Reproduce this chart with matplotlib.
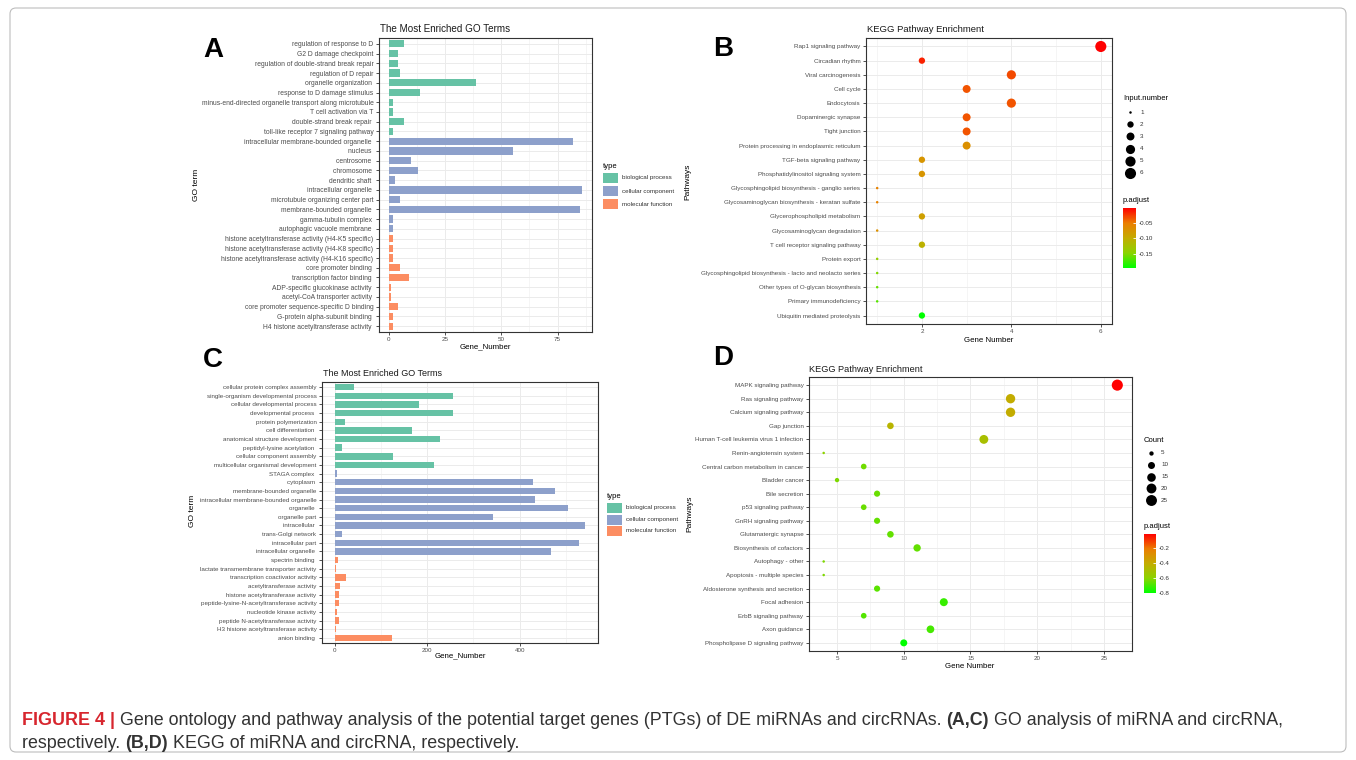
import numpy as np
import matplotlib.pyplot as plt
from matplotlib.colors import LinearSegmentedColormap, Normalize
from matplotlib.colorbar import ColorbarBase
from matplotlib.patches import FancyBboxPatch, Rectangle
from matplotlib.ticker import MultipleLocator

plt.rcParams['font.family'] = ['Liberation Sans', 'DejaVu Sans']

W, H = 1356, 760

# ---- panel A: GO terms of miRNA targets ----
go_a_terms = [
    "regulation of response to D", "G2 D damage checkpoint",
    "regulation of double-strand break repair", "regulation of D repair",
    "organelle organization ", "response to D damage stimulus",
    "minus-end-directed organelle transport along microtubule",
    "T cell activation via T", "double-strand break repair ",
    "toll-like receptor 7 signaling pathway",
    "intracellular membrane-bounded organelle ", "nucleus ", "centrosome ",
    "chromosome ", "dendritic shaft ", "intracellular organelle ",
    "microtubule organizing center part", "membrane-bounded organelle ",
    "gamma-tubulin complex ", "autophagic vacuole membrane ",
    "histone acetyltransferase activity (H4-K5 specific)",
    "histone acetyltransferase activity (H4-K8 specific)",
    "histone acetyltransferase activity (H4-K16 specific)",
    "core promoter binding ", "transcription factor binding ",
    "ADP-specific glucokinase activity ", "acetyl-CoA transporter activity ",
    "core promoter sequence-specific D binding", "G-protein alpha-subunit binding ",
    "H4 histone acetyltransferase activity ",
]
go_a_count = [7, 4, 4, 5, 39, 14, 2, 2, 7, 2,
              82, 55, 10, 13, 3, 86, 5, 85, 2, 2,
              2, 2, 2, 5, 9, 1, 1, 4, 2, 2]
go_a_type = (["biological process"] * 10 + ["cellular component"] * 10
             + ["molecular function"] * 10)

# ---- panel C: GO terms of circRNA targets ----
go_c_terms = [
    "cellular protein complex assembly", "single-organism developmental process",
    "cellular developmental process", "developmental process ",
    "protein polymerization", "cell differentiation ",
    "anatomical structure development", "peptidyl-lysine acetylation ",
    "cellular component assembly", "multicellular organismal development",
    "STAGA complex ", "cytoplasm ", "membrane-bounded organelle",
    "intracellular membrane-bounded organelle", "organelle ", "organelle part",
    "intracellular ", "trans-Golgi network", "intracellular part",
    "intracellular organelle ", "spectrin binding ",
    "lactate transmembrane transporter activity", "transcription coactivator activity",
    "acetyltransferase activity", "histone acetyltransferase activity",
    "peptide-lysine-N-acetyltransferase activity", "nucleotide kinase activity",
    "peptide N-acetyltransferase activity", "H3 histone acetyltransferase activity",
    "anion binding ",
]
go_c_count = [42, 255, 183, 256, 22, 168, 227, 16, 126, 214,
              5, 429, 476, 434, 505, 342, 542, 16, 527, 467,
              7, 4, 24, 12, 9, 9, 6, 9, 3, 124]
go_c_type = (["biological process"] * 10 + ["cellular component"] * 10
             + ["molecular function"] * 10)

# ---- panel B: KEGG of miRNA targets ----
kegg_b_terms = [
    "Rap1 signaling pathway", "Circadian rhythm", "Viral carcinogenesis",
    "Cell cycle", "Endocytosis", "Dopaminergic synapse", "Tight junction",
    "Protein processing in endoplasmic reticulum", "TGF-beta signaling pathway",
    "Phosphatidylinositol signaling system",
    "Glycosphingolipid biosynthesis - ganglio series",
    "Glycosaminoglycan biosynthesis - keratan sulfate",
    "Glycerophospholipid metabolism", "Glycosaminoglycan degradation",
    "T cell receptor signaling pathway", "Protein export",
    "Glycosphingolipid biosynthesis - lacto and neolacto series",
    "Other types of O-glycan biosynthesis", "Primary immunodeficiency",
    "Ubiquitin mediated proteolysis",
]
kegg_b_count = [6, 2, 4, 3, 4, 3, 3, 3, 2, 2, 1, 1, 2, 1, 2, 1, 1, 1, 1, 2]
kegg_b_padj = [-0.002, -0.015, -0.03, -0.035, -0.035, -0.035, -0.035, -0.07,
               -0.075, -0.075, -0.055, -0.055, -0.085, -0.07, -0.105, -0.14,
               -0.15, -0.16, -0.165, -0.195]

# ---- panel D: KEGG of circRNA targets ----
kegg_d_terms = [
    "MAPK signaling pathway", "Ras signaling pathway", "Calcium signaling pathway",
    "Gap junction", "Human T-cell leukemia virus 1 infection",
    "Renin-angiotensin system", "Central carbon metabolism in cancer",
    "Bladder cancer", "Bile secretion", "p53 signaling pathway",
    "GnRH signaling pathway", "Glutamatergic synapse", "Biosynthesis of cofactors",
    "Autophagy - other", "Apoptosis - multiple species",
    "Aldosterone synthesis and secretion", "Focal adhesion",
    "ErbB signaling pathway", "Axon guidance", "Phospholipase D signaling pathway",
]
kegg_d_count = [26, 18, 18, 9, 16, 4, 7, 5, 8, 7, 8, 9, 11, 4, 4, 8, 13, 7, 12, 10]
kegg_d_padj = [-0.005, -0.40, -0.40, -0.44, -0.50, -0.60, -0.64, -0.62, -0.65,
               -0.65, -0.66, -0.66, -0.66, -0.62, -0.62, -0.67, -0.72, -0.68,
               -0.70, -0.80]

type_names = ["biological process", "cellular component", "molecular function"]
type_colors = {"biological process": "#66C2A5", "cellular component": "#8DA0CB",
               "molecular function": "#FC8D62"}

padj_cmap = LinearSegmentedColormap.from_list(
    "gr", ["#00FF00", "#8CD300", "#C3AC00", "#EB7D00", "#FF0000"])

TICK_C = "#4D4D4D"
LINE_C = "#333333"

fig = plt.figure(figsize=(W / 100, H / 100), dpi=100)


def px_axes(l, t, r, b):
    return fig.add_axes([l / W, 1 - b / H, (r - l) / W, (b - t) / H])


def style(ax, major, minor, labelsize=4.5):
    ax.xaxis.set_major_locator(MultipleLocator(major))
    ax.xaxis.set_minor_locator(MultipleLocator(minor))
    ax.grid(which="major", color="#EBEBEB", lw=0.7, zorder=0)
    ax.grid(which="minor", axis="x", color="#F2F2F2", lw=0.5, zorder=0)
    ax.set_axisbelow(True)
    ax.tick_params(which="major", length=2.5, width=0.6, color=LINE_C,
                   labelsize=4.5, labelcolor=TICK_C, pad=1.5)
    ax.tick_params(axis="y", labelsize=labelsize)
    ax.tick_params(axis="x", pad=1.0)
    ax.tick_params(which="minor", length=0)
    for s in ax.spines.values():
        s.set_color(LINE_C)
        s.set_linewidth(0.8)


def go_panel(rect, terms, counts, types, major, minor, labelsize):
    ax = px_axes(*rect)
    y = np.arange(len(terms))
    ax.barh(y, counts, height=0.75, color=[type_colors[t] for t in types], zorder=2)
    ax.set_yticks(y)
    ax.set_yticklabels(terms)
    ax.set_ylim(len(terms) - 0.4, -0.6)
    m = max(counts)
    ax.set_xlim(-0.05 * m, 1.05 * m)
    style(ax, major, minor, labelsize)
    return ax


def size_of(v, lo, hi, dmin=1.8, dmax=8.0):
    v = np.asarray(v, dtype=float)
    return (dmin + (dmax - dmin) * np.sqrt((v - lo) / (hi - lo))) ** 2


def kegg_panel(rect, terms, counts, padj, norm, major, minor):
    ax = px_axes(*rect)
    y = np.arange(len(terms))
    lo, hi = min(counts), max(counts)
    ax.scatter(counts, y, s=size_of(counts, lo, hi), c=padj, cmap=padj_cmap,
               norm=norm, zorder=3, linewidths=0)
    ax.set_yticks(y)
    ax.set_yticklabels(terms)
    ax.set_ylim(len(terms) - 0.4, -0.6)
    pad = 0.05 * (hi - lo)
    ax.set_xlim(lo - pad, hi + pad)
    style(ax, major, minor)
    return ax


go_panel((379, 38, 592, 332), go_a_terms, go_a_count, go_a_type, 25, 12.5, 4.9)
go_panel((322, 382, 598, 643), go_c_terms, go_c_count, go_c_type, 200, 100, 4.5)

norm_b = Normalize(min(kegg_b_padj), max(kegg_b_padj))
norm_d = Normalize(min(kegg_d_padj), max(kegg_d_padj))
kegg_panel((866, 38, 1112, 324), kegg_b_terms, kegg_b_count, kegg_b_padj, norm_b, 2, 1)
kegg_panel((809, 377, 1132, 651), kegg_d_terms, kegg_d_count, kegg_d_padj, norm_d, 5, 2.5)

# colourbars
for (l, t, r, b), norm, ticks in [((1123, 208, 1136, 268), norm_b, [-0.05, -0.10, -0.15]),
                                  ((1144, 534, 1156, 593), norm_d, [-0.2, -0.4, -0.6, -0.8])]:
    cax = px_axes(l, t, r, b)
    cb = ColorbarBase(cax, cmap=padj_cmap, norm=norm, ticks=ticks)
    cb.outline.set_visible(False)
    cax.set_yticklabels([f"{v:.2f}" if abs(v) < 0.2 else f"{v:.1f}" for v in ticks])
    cax.tick_params(length=2.5, width=0.6, color="white", direction="in",
                    labelsize=4.5, labelcolor=LINE_C, pad=2)

# overlay for text and legends in pixel coordinates
ov = fig.add_axes([0, 0, 1, 1], facecolor="none")
ov.set_xlim(0, W)
ov.set_ylim(H, 0)
ov.axis("off")

ov.add_patch(FancyBboxPatch((10, 8), W - 20, H - 16, boxstyle="round,pad=0,rounding_size=6",
                            fill=False, ec="#BDBDBD", lw=0.8))

for letter, x, y in [("A", 213, 50), ("B", 723, 49), ("C", 213, 360), ("D", 723, 358)]:
    ov.text(x, y, letter, fontsize=20, fontweight="bold", ha="center", va="center")

for txt, x, y, fs in [("The Most Enriched GO Terms", 380, 29, 7.1),
                      ("KEGG Pathway Enrichment", 867, 30, 6.8),
                      ("The Most Enriched GO Terms", 323, 374, 6.5),
                      ("KEGG Pathway Enrichment", 809, 370, 6.6)]:
    ov.text(x, y, txt, fontsize=fs, ha="left", va="center", color="#1A1A1A")

for txt, x, y in [("Gene_Number", 485, 347), ("Gene Number", 989, 340),
                  ("Gene_Number", 460, 656), ("Gene Number", 970, 666)]:
    ov.text(x, y, txt, fontsize=5.7, ha="center", va="center")

for txt, x, y in [("GO term", 197, 185), ("Pathways", 688, 182),
                  ("GO term", 193, 511), ("Pathways", 690, 514)]:
    ov.text(x, y, txt, fontsize=6.0, ha="center", va="center", rotation=90)

# type legends
for x0, y0, step in [(603, 166, 13), (607, 496, 11.5)]:
    ov.text(x0, y0, "type", fontsize=5.5, ha="left", va="center")
    for i, name in enumerate(type_names):
        yc = y0 + 12 + i * step
        ov.add_patch(Rectangle((x0, yc - 5), 15, 10, color=type_colors[name], lw=0))
        ov.text(x0 + 19, yc, name, fontsize=4.5, ha="left", va="center", color=LINE_C)

# size legends
for title, x0, y0, vals, lo, hi, step in [
        ("Input.number", 1123, 99, [1, 2, 3, 4, 5, 6], min(kegg_b_count), max(kegg_b_count), 12.2),
        ("Count", 1144, 440, [5, 10, 15, 20, 25], min(kegg_d_count), max(kegg_d_count), 11.8)]:
    ov.text(x0, y0, title, fontsize=5.5, ha="left", va="center")
    for i, v in enumerate(vals):
        yc = y0 + 13 + i * step
        ov.scatter([x0 + 7], [yc], s=size_of(v, lo, hi), color="black", linewidths=0)
        ov.text(x0 + 17, yc, str(v), fontsize=4.5, ha="left", va="center", color=LINE_C)

ov.text(1123, 200, "p.adjust", fontsize=5.5, ha="left", va="center")
ov.text(1144, 527, "p.adjust", fontsize=5.5, ha="left", va="center")

# caption
CAP_FS = 12.9
cap = dict(fontsize=CAP_FS, va="baseline")
t = ov.text(22, 725, "FIGURE 4 |", color="#D7262E", fontweight="bold", **cap)
parts = [(" Gene ontology and pathway analysis of the potential target genes (PTGs) of DE miRNAs and circRNAs. ", "normal"),
         ("(A,C)", "bold"),
         (" GO analysis of miRNA and circRNA,", "normal")]
for s, wgt in parts:
    t = ov.annotate(s, xy=(1, 0), xycoords=t, xytext=(0, 0), textcoords="offset points",
                    color="#333333", fontweight=wgt, ha="left", va="bottom", fontsize=CAP_FS)
t = ov.text(22, 748, "respectively. ", color="#333333", **cap)
for s, wgt in [("(B,D)", "bold"), (" KEGG of miRNA and circRNA, respectively.", "normal")]:
    t = ov.annotate(s, xy=(1, 0), xycoords=t, xytext=(0, 0), textcoords="offset points",
                    color="#333333", fontweight=wgt, ha="left", va="bottom", fontsize=CAP_FS)

fig.savefig("out.png", dpi=100)
